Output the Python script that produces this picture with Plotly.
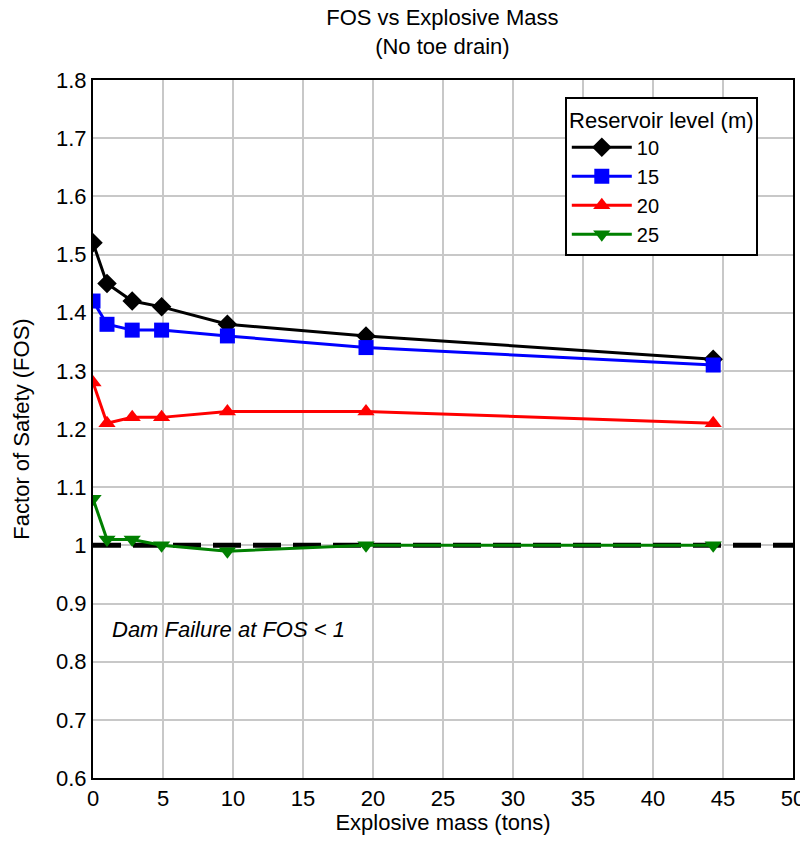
import plotly.graph_objects as go

mass = [0, 1, 2.8, 4.9, 9.6, 19.5, 44.3]
fos_10 = [1.52, 1.45, 1.42, 1.41, 1.38, 1.36, 1.32]
fos_15 = [1.42, 1.38, 1.37, 1.37, 1.36, 1.34, 1.31]
fos_20 = [1.28, 1.21, 1.22, 1.22, 1.23, 1.23, 1.21]
fos_25 = [1.08, 1.01, 1.01, 1.00, 0.99, 1.00, 1.00]
levels = ["10", "15", "20", "25"]
failure_x = [0, 50]
failure_y = [1, 1]
y_ticks = [0.6, 0.7, 0.8, 0.9, 1.0, 1.1, 1.2, 1.3, 1.4, 1.5, 1.6, 1.7, 1.8]
y_ticklabels = ["0.6", "0.7", "0.8", "0.9", "1", "1.1", "1.2", "1.3", "1.4", "1.5", "1.6", "1.7", "1.8"]

FONT = "Liberation Sans, Arial, sans-serif"
FS = 22

fig = go.Figure()
fig.add_trace(go.Scatter(x=failure_x, y=failure_y, mode="lines",
                         line=dict(color="black", width=5, dash="28px,12px"),
                         showlegend=False, hoverinfo="skip"))
series = [(fos_10, "black", "diamond"), (fos_15, "blue", "square"),
          (fos_20, "red", "triangle-up"), (fos_25, "green", "triangle-down")]
for name, (vals, col, sym) in zip(levels, series):
    fig.add_trace(go.Scatter(x=mass, y=vals, mode="lines+markers", name=name,
                             line=dict(color=col, width=3),
                             marker=dict(symbol=sym, size=15, color=col)))

fig.add_annotation(x=1.2, y=0.855, xref="x", yref="y", text="<i>Dam Failure at FOS < 1</i>",
                   showarrow=False, xanchor="left", font=dict(size=FS, color="black", family=FONT))

axis_common = dict(showline=True, linecolor="black", linewidth=2, mirror=True,
                   showgrid=True, gridcolor="#c8c8c8", gridwidth=2, zeroline=False,
                   automargin=False,
                   ticks="", tickfont=dict(size=FS, color="black", family=FONT))
fig.update_xaxes(range=[0, 50], dtick=5, tick0=0,
                 title=dict(text="Explosive mass (tons)", font=dict(size=FS, color="black", family=FONT), standoff=0),
                 **axis_common)
fig.update_yaxes(range=[0.6, 1.8], tickvals=y_ticks, ticktext=y_ticklabels,
                 title=dict(text="Factor of Safety (FOS)", font=dict(size=FS, color="black", family=FONT), standoff=20),
                 **axis_common)

fig.update_layout(
    width=800, height=827,
    margin=dict(l=85, r=15, t=72, b=57),
    paper_bgcolor="white", plot_bgcolor="white",
    font=dict(family=FONT, color="black"),
    title=dict(text="FOS vs Explosive Mass<br>(No toe drain)", x=0.543, xanchor="center",
               y=0.979, yanchor="top", font=dict(size=FS, color="black", family=FONT)),
    legend=dict(x=0.674, y=0.9756, xanchor="left", yanchor="top",
                bgcolor="white", bordercolor="black", borderwidth=2,
                title=dict(text="Reservoir level (m)", side="top center", font=dict(size=FS, family=FONT)),
                font=dict(size=20, family=FONT), itemwidth=60, tracegroupgap=0),
)

fig.write_html("out.html")
